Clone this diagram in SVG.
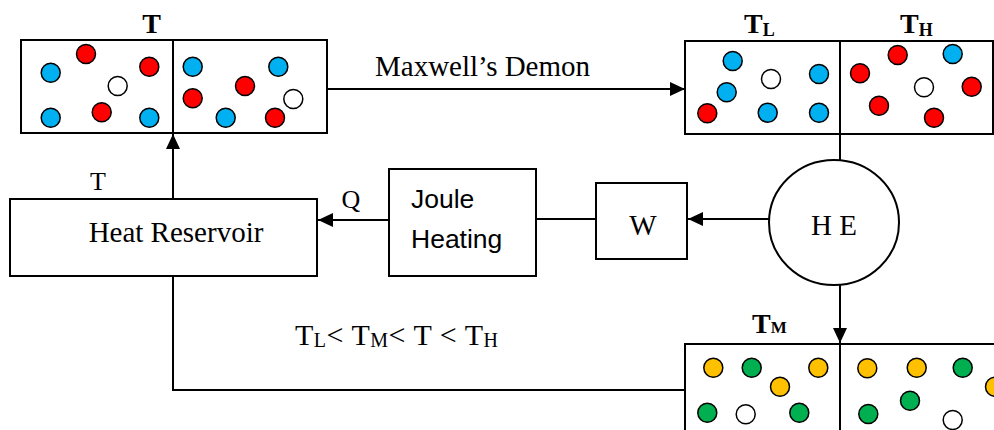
<svg xmlns="http://www.w3.org/2000/svg" width="994" height="430" viewBox="0 0 994 430">
<defs>
<style>
.box{fill:#fff;stroke:#000;stroke-width:2}
.ln{fill:none;stroke:#000;stroke-width:2}
.b{fill:#00B0F0;stroke:#000;stroke-width:1.5}
.r{fill:#FF0000;stroke:#000;stroke-width:1.5}
.w{fill:#fff;stroke:#000;stroke-width:1.5}
.y{fill:#FFC000;stroke:#000;stroke-width:1.5}
.g{fill:#00B050;stroke:#000;stroke-width:1.5}
.serif{font-family:"Liberation Serif","Times New Roman",serif;fill:#000}
.sans{font-family:"Liberation Sans",Arial,sans-serif;fill:#000}
</style>
<marker id="ah" markerUnits="userSpaceOnUse" markerWidth="16" markerHeight="15" refX="15" refY="7" orient="auto">
<path d="M0,0 L15,7 L0,14 z" fill="#000"/>
</marker>
</defs>
<rect width="994" height="430" fill="#fff"/>

<g id="box-T">
<rect class="box" x="21" y="40" width="306" height="93"/>
<line class="ln" x1="173" y1="40" x2="173" y2="133"/>
<text class="serif" x="151.5" y="33" font-size="28" font-weight="bold" text-anchor="middle">T</text>
<circle class="b" cx="50.7" cy="72.7" r="9.5"/>
<circle class="r" cx="86" cy="54" r="9.5"/>
<circle class="r" cx="149.3" cy="66.7" r="9.5"/>
<circle class="w" cx="117.7" cy="86" r="9.5"/>
<circle class="b" cx="50.7" cy="117.7" r="9.5"/>
<circle class="r" cx="101.7" cy="112.3" r="9.5"/>
<circle class="b" cx="149.3" cy="117.7" r="9.5"/>
<circle class="b" cx="192.7" cy="66.7" r="9.5"/>
<circle class="b" cx="278.3" cy="66.7" r="9.5"/>
<circle class="r" cx="245" cy="86" r="9.5"/>
<circle class="r" cx="192.7" cy="98.3" r="9.5"/>
<circle class="w" cx="293.3" cy="99" r="9.5"/>
<circle class="b" cx="225.7" cy="117.7" r="9.5"/>
<circle class="r" cx="275" cy="117.7" r="9.5"/>
</g>

<g id="box-TL-TH">
<rect class="box" x="685" y="41" width="308" height="93"/>
<line class="ln" x1="840" y1="41" x2="840" y2="134"/>
<text class="serif" x="744" y="33" font-size="28" font-weight="bold">T<tspan font-size="18" dy="3">L</tspan></text>
<text class="serif" x="900" y="33" font-size="28" font-weight="bold">T<tspan font-size="18" dy="3">H</tspan></text>
<circle class="b" cx="732.7" cy="61" r="9.5"/>
<circle class="w" cx="771" cy="79" r="9.5"/>
<circle class="b" cx="819" cy="74" r="9.5"/>
<circle class="b" cx="726.7" cy="92.3" r="9.5"/>
<circle class="r" cx="707.3" cy="113.3" r="9.5"/>
<circle class="b" cx="767.7" cy="112.7" r="9.5"/>
<circle class="b" cx="819" cy="112.7" r="9.5"/>
<circle class="r" cx="897.7" cy="55" r="9.5"/>
<circle class="b" cx="952.7" cy="54" r="9.5"/>
<circle class="r" cx="860" cy="73.3" r="9.5"/>
<circle class="w" cx="924" cy="87.3" r="9.5"/>
<circle class="r" cx="971.7" cy="86.7" r="9.5"/>
<circle class="r" cx="879" cy="105.7" r="9.5"/>
<circle class="r" cx="934" cy="117.7" r="9.5"/>
</g>

<g id="box-TM">
<rect class="box" x="685" y="344" width="330" height="100"/>
<line class="ln" x1="840" y1="344" x2="840" y2="432"/>
<text class="serif" x="752" y="333" font-size="28" font-weight="bold">T<tspan font-size="17" dy="0">M</tspan></text>
<circle class="y" cx="713.3" cy="367.7" r="9.5"/>
<circle class="g" cx="751.7" cy="367.7" r="9.5"/>
<circle class="y" cx="818.3" cy="367.7" r="9.5"/>
<circle class="y" cx="780" cy="386.7" r="9.5"/>
<circle class="g" cx="707.3" cy="412.7" r="9.5"/>
<circle class="w" cx="745.7" cy="414.3" r="9.5"/>
<circle class="g" cx="799.3" cy="412.7" r="9.5"/>
<circle class="y" cx="867.3" cy="368.3" r="9.5"/>
<circle class="y" cx="916.7" cy="367.7" r="9.5"/>
<circle class="g" cx="962.7" cy="367.7" r="9.5"/>
<circle class="y" cx="995" cy="386.7" r="9.5"/>
<circle class="g" cx="910" cy="400.7" r="9.5"/>
<circle class="g" cx="868.3" cy="414" r="9.5"/>
<circle class="w" cx="952.7" cy="420" r="9.5"/>
</g>

<g id="heat-reservoir">
<rect class="box" x="10" y="199" width="307" height="77"/>
<text class="serif" x="176" y="242" font-size="29" text-anchor="middle">Heat Reservoir</text>
</g>

<g id="joule-heating">
<rect class="box" x="389" y="169" width="147" height="107"/>
<text class="sans" x="411" y="208" font-size="26.5">Joule</text>
<text class="sans" x="411" y="248" font-size="26.5">Heating</text>
</g>

<g id="work">
<rect class="box" x="596" y="183" width="91" height="76"/>
<text class="serif" x="643" y="235" font-size="29" text-anchor="middle">W</text>
</g>

<g id="heat-engine">
<ellipse class="box" cx="834" cy="222.5" rx="65" ry="62.5"/>
<text class="serif" x="834" y="235" font-size="29" text-anchor="middle">H E</text>
</g>

<g id="connectors">
<line class="ln" x1="327" y1="89" x2="685" y2="89" marker-end="url(#ah)"/>
<line class="ln" x1="173" y1="199" x2="173" y2="134" marker-end="url(#ah)"/>
<line class="ln" x1="389" y1="220" x2="318" y2="220" marker-end="url(#ah)"/>
<line class="ln" x1="536" y1="219" x2="596" y2="219"/>
<line class="ln" x1="769" y1="219" x2="688" y2="219" marker-end="url(#ah)"/>
<line class="ln" x1="840" y1="134" x2="840" y2="160"/>
<line class="ln" x1="840" y1="285" x2="840" y2="343" marker-end="url(#ah)"/>
<polyline class="ln" points="173,276 173,390 685,390"/>
</g>

<g id="labels">
<text class="serif" x="375" y="76" font-size="29">Maxwell’s Demon</text>
<text class="serif" x="98" y="190" font-size="26" text-anchor="middle">T</text>
<text class="serif" x="351" y="208" font-size="26" text-anchor="middle">Q</text>
<text class="serif" x="295" y="345" font-size="30" textLength="203" lengthAdjust="spacing">T<tspan font-size="20" dy="2">L</tspan><tspan dy="-2">&lt; T</tspan><tspan font-size="20" dy="2">M</tspan><tspan dy="-2">&lt; T &lt; T</tspan><tspan font-size="20" dy="2">H</tspan></text>
</g>
</svg>
